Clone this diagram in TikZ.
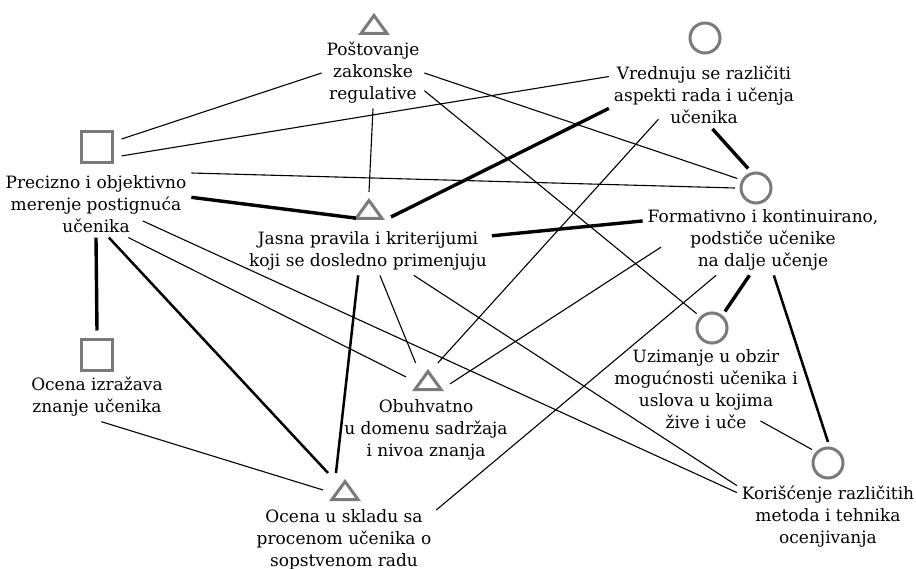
\documentclass[tikz,border=0pt]{standalone}
\usepackage{fontspec}
\setmainfont{DejaVu Serif}
\definecolor{symgray}{RGB}{122,122,122}
\tikzset{
  lbl/.style={align=center, inner sep=2pt, outer sep=3pt, font=\fontsize{17}{22}\selectfont},
  sq/.style={draw=symgray, line width=3pt, minimum size=31pt, inner sep=0pt, outer sep=9pt},
  ci/.style={circle, draw=symgray, line width=3pt, minimum size=30pt, inner sep=0pt, outer sep=6pt},
  tribox/.style={minimum width=32pt, minimum height=22pt, inner sep=0pt, outer sep=6pt},
  weak/.style={line width=1.1pt},
  medium/.style={line width=2.5pt},
  strong/.style={line width=3.4pt},
}
% triangle mark drawn inside a tribox node
\newcommand{\trimark}[1]{\draw[symgray, line width=3pt] ([shift={(-13,9.5)}]#1.center) -- ([shift={(0,-8.5)}]#1.center) -- ([shift={(13,9.5)}]#1.center) -- cycle;}
\begin{document}
\begin{tikzpicture}[x=1pt, y=-1pt]
\useasboundingbox (0,0) rectangle (916,569);
% symbols
\node[tribox] (P) at (374,24) {};
\node[ci] (V) at (705,38) {};
\node[sq] (R) at (97,147) {};
\node[ci] (F) at (756,188) {};
\node[tribox] (J) at (369,209) {};
\node[sq] (Z) at (97,355) {};
\node[ci] (U) at (712,328) {};
\node[tribox] (B) at (428,380) {};
\node[tribox] (S) at (345,490) {};
\node[ci] (K) at (828,463) {};
\trimark{P} \trimark{J} \trimark{B} \trimark{S}
% labels
\node[lbl] (tP) at (373,73) {Poštovanje\\zakonske\\regulative};
\node[lbl] (tV) at (704,95) {Vrednuju se različiti\\aspekti rada i učenja\\učenika};
\node[lbl] (tR) at (96,204) {Precizno i objektivno\\merenje postignuća\\učenika};
\node[lbl] (tF) at (763,240) {Formativno i kontinuirano,\\podstiče učenike\\na dalje učenje};
\node[lbl] (tJ) at (368,251) {Jasna pravila i kriterijumi\\koji se dosledno primenjuju};
\node[lbl] (tZ) at (97,397) {Ocena izražava\\znanje učenika};
\node[lbl] (tU) at (706,389) {Uzimanje u obzir\\mogućnosti učenika i\\uslova u kojima\\žive i uče};
\node[lbl] (tB) at (426,430) {Obuhvatno\\u domenu sadržaja\\i nivoa znanja};
\node[lbl] (tS) at (344,540) {Ocena u skladu sa\\procenom učenika o\\sopstvenom radu};
\node[lbl] (tK) at (828,517) {Korišćenje različitih\\metoda i tehnika\\ocenjivanja};
% links
\draw[weak] (R.18) -- (tP.west);
\draw[weak] (R.-20) -- (tV.169);
\draw[weak] (tR.18) -- (F.west);
\draw[strong, shorten >=-9pt] (tR.4) -- (J.200);
\draw[strong] (J.-20) -- (tV.188);
\draw[weak] (tP.south) -- (J.north);
\draw[weak] (tP.east) -- (F.153);
\draw[weak] (tP.-19) -- (U.137);
\draw[strong] (tR.south) -- (Z.north);
\draw[medium] (tR.-69) -- (S.135);
\draw[medium] (tJ.-112) -- (S.118);
\draw[weak] (tJ.-64) -- (B.126);
\draw[weak] (tJ.-28) -- (tK.161);
\draw[weak, shorten <=-40pt] (tR.-22) -- (tK.165);
\draw[weak] (tR.-46) -- (B.172);
\draw[weak, shorten >=-13pt] (B.60) -- (tV.-148);
\draw[weak, shorten >=-22pt] (B.-10) -- (tF.189);
\draw[weak] (tS.18) -- (tF.-143);
\draw[weak] (tZ.-80) -- (S.west);
\draw[weak, shorten <=-26pt] (tU.-30) -- (K.140);
\draw[medium] (tF.-73) -- (K.north);
\draw[strong] (tF.-111) -- (U.52);
\draw[strong] (tV.-76) -- (F.112);
\draw[strong] (tJ.7) -- (tF.171);
\end{tikzpicture}
\end{document}
